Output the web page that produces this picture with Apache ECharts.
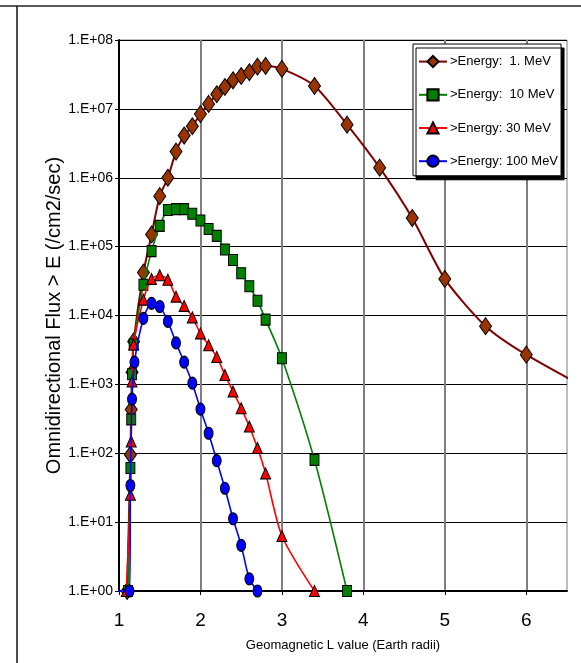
<!DOCTYPE html>
<html>
<head>
<meta charset="utf-8">
<script src="https://cdn.jsdelivr.net/npm/echarts@6/dist/echarts.min.js"></script>
<style>
html,body{margin:0;padding:0;background:#fff;}
#chart{width:581px;height:663px;}
</style>
</head>
<body>
<div id="chart"></div>
<script>
// ---- data ----
const seriesNames = ['>Energy:  1. MeV', '>Energy:  10 MeV', '>Energy: 30 MeV', '>Energy: 100 MeV'];

const L1 = [1.10, 1.14, 1.15, 1.16, 1.18, 1.3, 1.4, 1.5, 1.6, 1.7, 1.8, 1.9, 2.0, 2.1, 2.2, 2.3, 2.4, 2.5, 2.6, 2.7, 2.8, 3.0, 3.4, 3.8, 4.2, 4.6, 5.0, 5.5, 6.0, 7.0];
const F1 = [1, 95, 430, 1500, 4200, 42000, 150000, 540000, 1.0e6, 2.4e6, 4.1e6, 5.6e6, 8.4e6, 1.18e7, 1.63e7, 2.08e7, 2.6e7, 3.0e7, 3.4e7, 4.1e7, 4.2e7, 3.8e7, 2.15e7, 5.9e6, 1.4e6, 2.6e5, 3.4e4, 7000, 2700, 600];

const L10 = [1.11, 1.14, 1.15, 1.16, 1.18, 1.3, 1.4, 1.5, 1.6, 1.7, 1.8, 1.9, 2.0, 2.1, 2.2, 2.3, 2.4, 2.5, 2.6, 2.7, 2.8, 3.0, 3.4, 3.8];
const F10 = [1, 61, 310, 1400, 3800, 28000, 86000, 200000, 340000, 350000, 350000, 300000, 240000, 180000, 143000, 91000, 64000, 41000, 26600, 16400, 8700, 2400, 80, 1];

const L30 = [1.09, 1.14, 1.15, 1.16, 1.18, 1.3, 1.4, 1.5, 1.6, 1.7, 1.8, 1.9, 2.0, 2.1, 2.2, 2.3, 2.4, 2.5, 2.6, 2.7, 2.8, 3.0, 3.4];
const F30 = [1, 25, 148, 1100, 3800, 17000, 34000, 38500, 33000, 18800, 13800, 9400, 5500, 3700, 2500, 1370, 790, 450, 244, 119, 51, 6.3, 1];

const L100 = [0.93, 1.13, 1.14, 1.16, 1.19, 1.3, 1.4, 1.5, 1.6, 1.7, 1.8, 1.9, 2.0, 2.1, 2.2, 2.3, 2.4, 2.5, 2.6, 2.7];
const F100 = [1, 1, 34, 610, 2100, 9100, 15000, 13500, 8200, 4000, 2100, 1040, 437, 195, 78, 31, 11.2, 4.6, 1.5, 1];

const xTicks = [1, 2, 3, 4, 5, 6];
const xTickLabels = ['1', '2', '3', '4', '5', '6'];
const yTickLabels = ['1.E+00', '1.E+01', '1.E+02', '1.E+03', '1.E+04', '1.E+05', '1.E+06', '1.E+07', '1.E+08'];
const xTitle = 'Geomagnetic L value (Earth radii)';
const yTitle = 'Omnidirectional Flux > E (/cm2/sec)';

// ---- chart ----
const FONT = "'Liberation Sans', Arial, sans-serif";

function pairs(xs, ys, hideFirst) {
  return xs.map((x, i) => {
    const d = { value: [x, ys[i]] };
    if (hideFirst && i === 0) d.symbol = 'none';
    return d;
  });
}

const styles = [
  { line: '#800000', fill: '#993300', symbol: 'diamond', size: [12, 17], w: 2 },
  { line: '#008000', fill: '#008000', symbol: 'rect', size: [9, 11], w: 1.6 },
  { line: '#ff0000', fill: '#ff0000', symbol: 'triangle', size: [10, 11], w: 1.6 },
  { line: '#0000ff', fill: '#0000ff', symbol: 'circle', size: [9, 12], w: 1.6 }
];
const datasets = [pairs(L1, F1), pairs(L10, F10), pairs(L30, F30), pairs(L100, F100, true)];

const chart = echarts.init(document.getElementById('chart'), null, { renderer: 'canvas' });
chart.setOption({
  animation: false,
  backgroundColor: '#fff',
  grid: { left: 119, top: 40, right: 14, bottom: 72, show: true, borderColor: '#7f7f7f', borderWidth: 1, containLabel: false },
  graphic: [
    { type: 'line', shape: { x1: 0, y1: 6, x2: 581, y2: 6 }, style: { stroke: '#222', lineWidth: 1.5 }, silent: true },
    { type: 'line', shape: { x1: 17, y1: 6, x2: 17, y2: 663 }, style: { stroke: '#111', lineWidth: 1.5 }, silent: true }
  ],
  legend: {
    orient: 'vertical', left: 413, top: 44,
    padding: [11, 3, 8, 5], itemGap: 20, itemWidth: 28, itemHeight: 14,
    backgroundColor: '#fff', borderColor: '#000', borderWidth: 1,
    shadowColor: '#000', shadowOffsetX: 3, shadowOffsetY: 4, shadowBlur: 0,
    textStyle: { fontFamily: FONT, fontSize: 13, color: '#000', padding: [0, 0, 0, -2] },
    data: seriesNames
  },
  xAxis: {
    type: 'value', min: 1, max: 6.5, interval: 1,
    axisLine: { show: true, onZero: false, lineStyle: { color: '#000', width: 2 } },
    axisTick: { show: true, length: 4, lineStyle: { color: '#000', width: 1 }, customValues: xTicks },
    axisLabel: {
      customValues: xTicks, margin: 20, color: '#000', fontFamily: FONT, fontSize: 19,
      formatter: v => { const i = xTicks.indexOf(v); return i >= 0 ? xTickLabels[i] : ''; }
    },
    splitLine: { show: true, lineStyle: { color: '#7f7f7f', width: 2 } },
    name: xTitle, nameLocation: 'middle', nameGap: 48, nameMoveOverlap: false,
    nameTextStyle: { fontFamily: FONT, fontSize: 13, color: '#000' }
  },
  yAxis: {
    type: 'log', logBase: 10, min: 1, max: 1e8,
    axisLine: { show: true, lineStyle: { color: '#000', width: 2 } },
    axisTick: { show: true, length: 4, lineStyle: { color: '#000', width: 1 } },
    axisLabel: {
      margin: 6, color: '#000', fontFamily: FONT, fontSize: 14,
      formatter: v => { const i = Math.round(Math.log10(v)); return yTickLabels[i] || ''; }
    },
    minorTick: { show: false },
    splitLine: { show: true, lineStyle: { color: '#000', width: 1 } },
    name: yTitle, nameLocation: 'middle', nameRotate: 90, nameGap: 55, nameMoveOverlap: false,
    nameTextStyle: { fontFamily: FONT, fontSize: 20, color: '#000' }
  },
  series: seriesNames.map((n, k) => ({
    name: n, type: 'line', data: datasets[k],
    clip: false, smooth: 0.25,
    symbol: styles[k].symbol, symbolSize: styles[k].size,
    lineStyle: { color: styles[k].line, width: styles[k].w },
    itemStyle: { color: styles[k].fill, borderColor: '#000', borderWidth: 1 },
    emphasis: { disabled: true },
    z: 2 + k
  }))
});
</script>
</body>
</html>
